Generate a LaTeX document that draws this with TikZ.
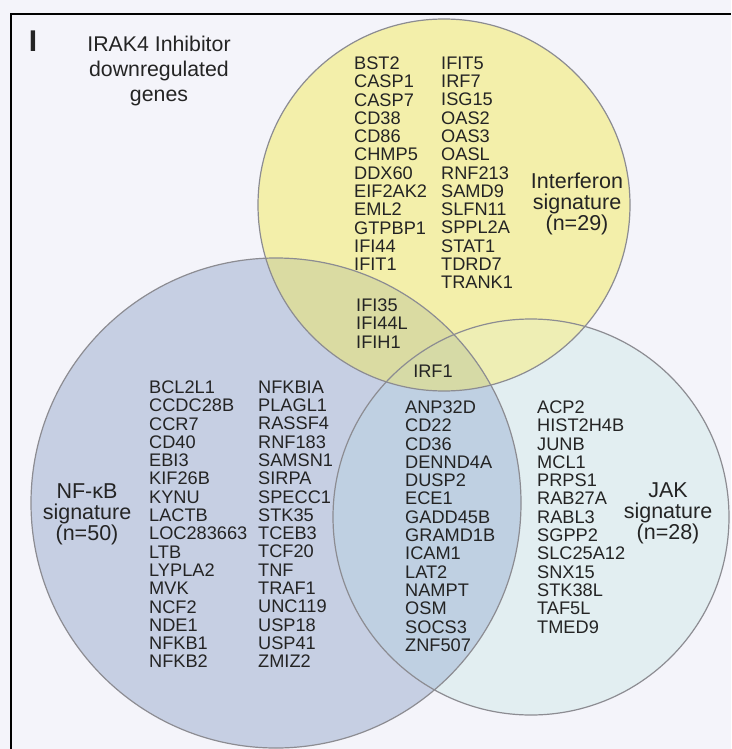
\documentclass[tikz,border=0pt]{standalone}
\usepackage{fontspec}
\setmainfont{Liberation Sans}

\definecolor{bgpanel}{RGB}{244,244,250}
\definecolor{ifnfill}{RGB}{243,239,170}
\definecolor{nfkbfill}{RGB}{198,207,227}
\definecolor{jakfill}{RGB}{226,238,241}
\definecolor{ifnnfkb}{RGB}{218,219,162}
\definecolor{nfkbjak}{RGB}{191,208,226}
\definecolor{ifnjak}{RGB}{238,238,180}
\definecolor{allthree}{RGB}{214,218,166}
\definecolor{ringgray}{RGB}{140,140,146}
\definecolor{genetext}{RGB}{36,36,36}

\begin{document}
\begin{tikzpicture}[x=1pt,y=-1pt,
    gene/.style={font=\fontsize{18.2}{18.3}\selectfont, text=genetext,
      inner sep=0pt, align=left, anchor=north west},
    sig/.style={font=\fontsize{21.5}{21}\selectfont, text=genetext,
      inner sep=0pt, align=center},
    ring/.style={draw=ringgray, line width=1.2pt}]
        \useasboundingbox (0,0) rectangle (731,749);
        \fill[bgpanel] (0,0) rectangle (731,749);
        \draw[line width=2pt] (11,749) -- (11,14) -- (731,14);

        % circle centres
        \coordinate (ifn) at (444,205);
        \coordinate (nfkb) at (276,503);
        \coordinate (jak) at (531,517);

        \fill[nfkbfill] (nfkb) circle[radius=245pt];
        \fill[jakfill] (jak) circle[radius=198pt];
        \fill[ifnfill] (ifn) circle[radius=186pt];
        \begin{scope}
            \clip (nfkb) circle[radius=245pt];
            \fill[nfkbjak] (jak) circle[radius=198pt];
            \fill[ifnnfkb] (ifn) circle[radius=186pt];
        \end{scope}
        \begin{scope}
            \clip (jak) circle[radius=198pt];
            \fill[ifnjak] (ifn) circle[radius=186pt];
            \clip (nfkb) circle[radius=245pt];
            \fill[allthree] (ifn) circle[radius=186pt];
        \end{scope}
        \draw[ring] (nfkb) circle[radius=245pt];
        \draw[ring] (jak) circle[radius=198pt];
        \draw[ring] (ifn) circle[radius=186pt];

        % title
        \node (panel) at (33,41) [font=\fontsize{30}{30}\selectfont\bfseries, text=genetext] {I};
        \node (title) at (159,36) [anchor=north, align=center, inner sep=0pt, text=genetext,
            font=\fontsize{21.3}{25}\selectfont] {IRAK4 Inhibitor\\downregulated\\genes};

        % interferon only
        \node (ifnA) at (354,56.5) [gene] {BST2\\CASP1\\CASP7\\CD38\\CD86\\CHMP5\\DDX60\\EIF2AK2\\EML2\\GTPBP1\\IFI44\\IFIT1};
        \node (ifnB) at (441,56.5) [gene] {IFIT5\\IRF7\\ISG15\\OAS2\\OAS3\\OASL\\RNF213\\SAMD9\\SLFN11\\SPPL2A\\STAT1\\TDRD7\\TRANK1};
        \node (ifnlab) at (577,204) [sig] {Interferon\\signature\\(n=29)};

        % overlaps
        \node (ifnnf) at (356,298.5) [gene] {IFI35\\IFI44L\\IFIH1};
        \node (irf) at (433,371) [font=\fontsize{18.2}{18.3}\selectfont, text=genetext, inner sep=0pt] {IRF1};
        \node (nfjak) at (405,400.5) [gene] {ANP32D\\CD22\\CD36\\DENND4A\\DUSP2\\ECE1\\GADD45B\\GRAMD1B\\ICAM1\\LAT2\\NAMPT\\OSM\\SOCS3\\ZNF507};

        % NF-kB only
        \node (nfA) at (149,380.5) [gene] {BCL2L1\\CCDC28B\\CCR7\\CD40\\EBI3\\KIF26B\\KYNU\\LACTB\\LOC283663\\LTB\\LYPLA2\\MVK\\NCF2\\NDE1\\NFKB1\\NFKB2};
        \node (nfB) at (258,380.5) [gene] {NFKBIA\\PLAGL1\\RASSF4\\RNF183\\SAMSN1\\SIRPA\\SPECC1\\STK35\\TCEB3\\TCF20\\TNF\\TRAF1\\UNC119\\USP18\\USP41\\ZMIZ2};
        \node (nflab) at (87,514) [sig] {NF-κB\\signature\\(n=50)};

        % JAK only
        \node (jakA) at (537,400.5) [gene] {ACP2\\HIST2H4B\\JUNB\\MCL1\\PRPS1\\RAB27A\\RABL3\\SGPP2\\SLC25A12\\SNX15\\STK38L\\TAF5L\\TMED9};
        \node (jaklab) at (668,513) [sig] {JAK\\signature\\(n=28)};
    \end{tikzpicture}
\end{document}
